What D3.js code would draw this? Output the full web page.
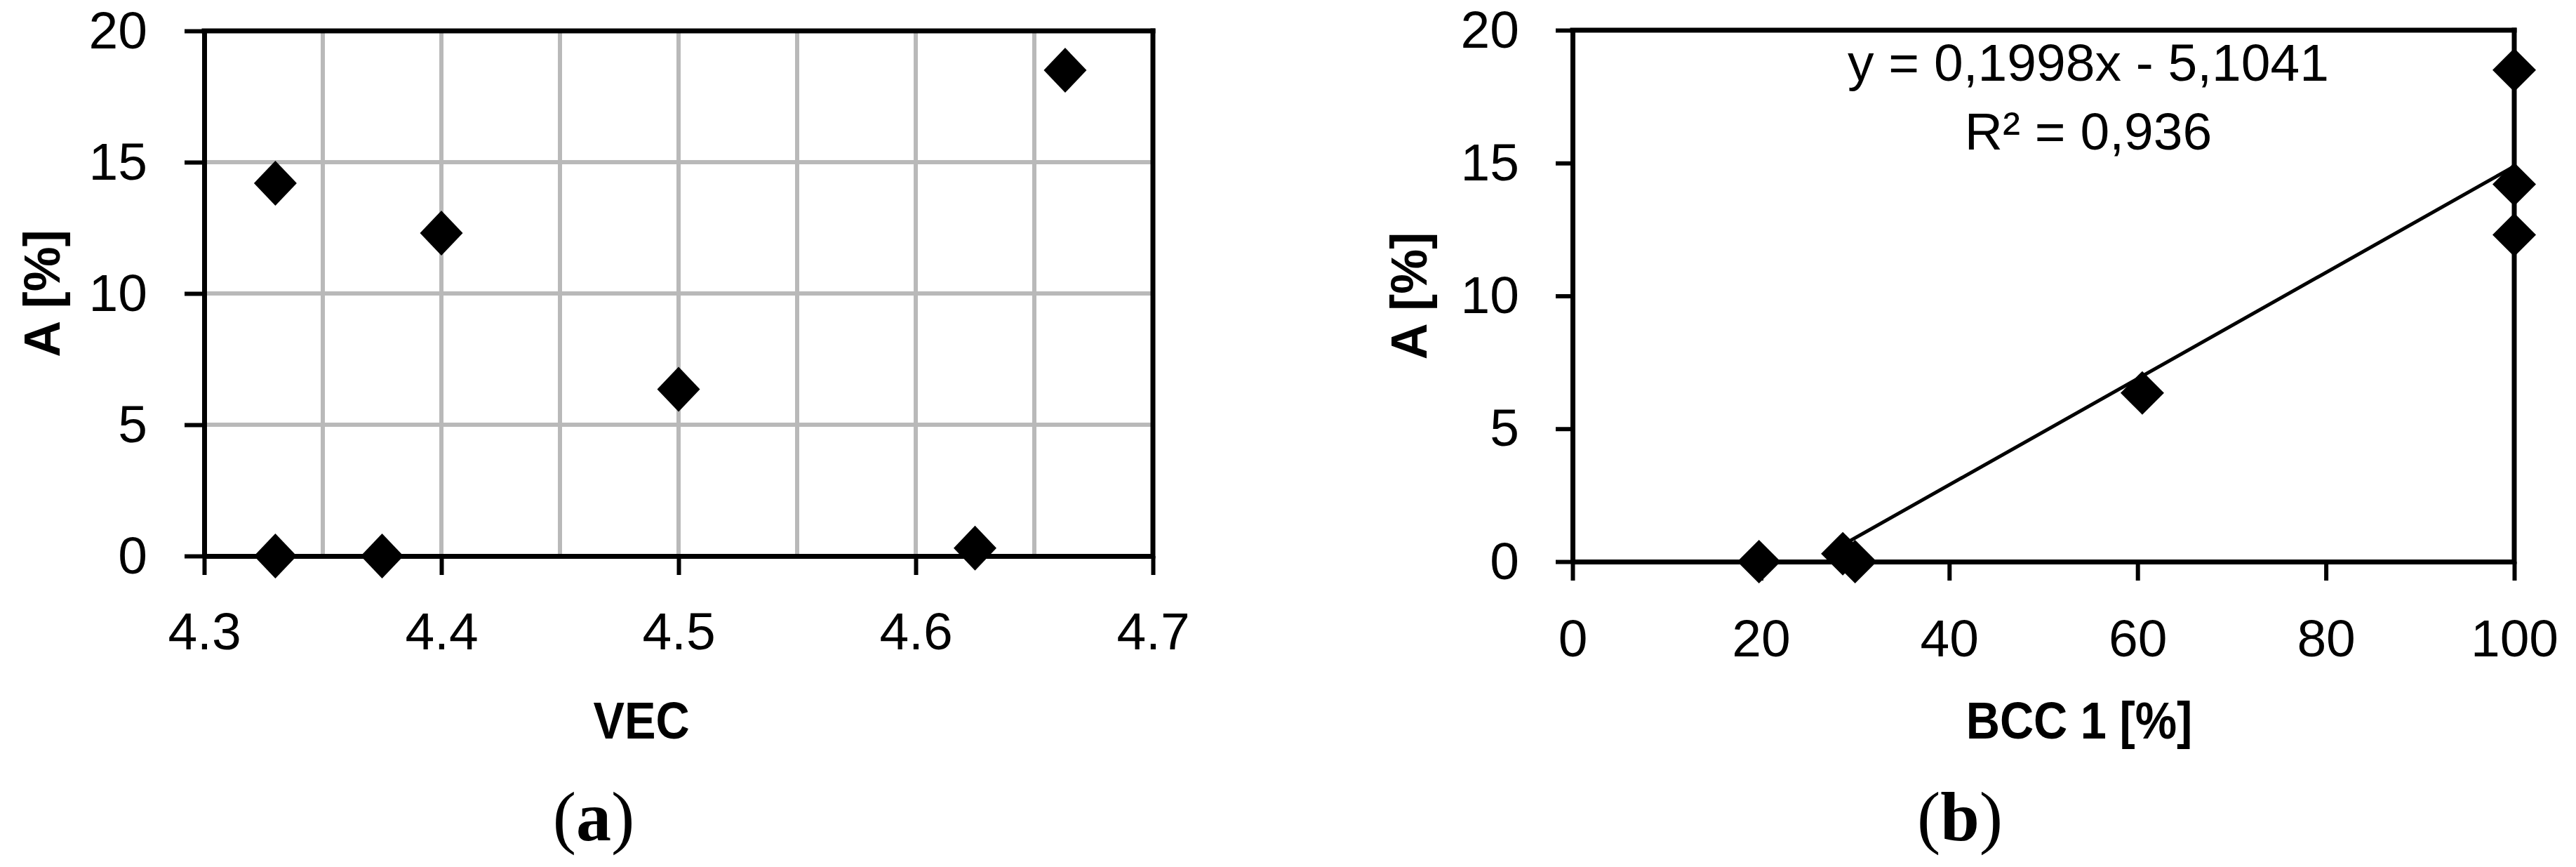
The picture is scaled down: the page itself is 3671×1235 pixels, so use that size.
<!DOCTYPE html>
<html>
<head>
<meta charset="utf-8">
<script src="https://cdn.jsdelivr.net/npm/d3@7"></script>
<style>
  body { margin: 0; background: #fff; }
  svg text { font-family: "Liberation Sans", Arial, sans-serif; fill: #000; }
</style>
</head>
<body>
<script>
// panel (a): A vs VEC
const vec = [4.33, 4.33, 4.375, 4.4, 4.5, 4.625, 4.663];
const vecA = [14.2, 0, 0, 12.3, 6.35, 0.3, 18.5];
const vecTicks = [4.3, 4.4, 4.5, 4.6, 4.7];
const vecGrid = [4.35, 4.4, 4.45, 4.5, 4.55, 4.6, 4.65];

// panel (b): A vs BCC 1
const bcc = [100, 100, 100, 60.5, 28.7, 19.8, 30];
const bccA = [18.5, 14.2, 12.3, 6.35, 0.3, 0, 0];
const bccTicks = [0, 20, 40, 60, 80, 100];

// shared y axis
const aTicks = [0, 5, 10, 15, 20];
const aGrid = [5, 10, 15];

// linear trend shown in (b)
const slope = 0.1998, intercept = -5.1041;
const trendRange = [28.7, 100];
const eqText = ["y = 0,1998x - 5,1041", "R² = 0,936"];

const W = 3671, H = 1235;
const svg = d3.select('body').append('svg')
  .attr('width', W)
  .attr('height', H);
svg.append('rect').attr('width', W).attr('height', H).attr('fill', '#fff');

function diamond(cx, cy, hw, hh) {
  return `M${cx},${cy - hh}L${cx + hw},${cy}L${cx},${cy + hh}L${cx - hw},${cy}Z`;
}

function styleAxis(g, sw) {
  g.select('.domain').attr('stroke', '#000').attr('stroke-width', sw);
  g.selectAll('.tick line').attr('stroke', '#000').attr('stroke-width', sw - 1);
  g.selectAll('.tick text').attr('font-size', 75).attr('font-family', null);
}

function drawPanel(o) {
  const { x, y, xTicks, fmt, sw } = o;
  const [x0, x1] = x.range();
  const [y0, y1] = y.range();
  const g = svg.append('g').attr('class', o.cls);

  // grid (only panel a)
  if (o.xGrid) {
    g.selectAll('line.vg').data(o.xGrid).join('line')
      .attr('class', 'vg')
      .attr('x1', d => x(d)).attr('x2', d => x(d))
      .attr('y1', y1).attr('y2', y0)
      .attr('stroke', '#b9b9b9').attr('stroke-width', 6);
    g.selectAll('line.hg').data(o.yGrid).join('line')
      .attr('class', 'hg')
      .attr('x1', x0).attr('x2', x1)
      .attr('y1', d => y(d)).attr('y2', d => y(d))
      .attr('stroke', '#b9b9b9').attr('stroke-width', 6);
  }

  // top + right border
  g.append('line').attr('x1', x0).attr('x2', x1).attr('y1', y1).attr('y2', y1)
    .attr('stroke', '#000').attr('stroke-width', sw).attr('stroke-linecap', 'square');
  g.append('line').attr('x1', x1).attr('x2', x1).attr('y1', y1).attr('y2', y0)
    .attr('stroke', '#000').attr('stroke-width', sw).attr('stroke-linecap', 'square');

  const xAxis = g.append('g')
    .attr('transform', `translate(0,${y0})`)
    .call(d3.axisBottom(x).tickValues(xTicks).tickFormat(fmt)
      .tickSize(27).tickSizeOuter(0).tickPadding(o.xPad));
  styleAxis(xAxis, sw);

  const yAxis = g.append('g')
    .attr('transform', `translate(${x0},0)`)
    .call(d3.axisLeft(y).tickValues(aTicks).tickFormat(d3.format('d'))
      .tickSize(o.yTick).tickSizeOuter(0).tickPadding(o.yPad - o.yTick));
  styleAxis(yAxis, sw);
  yAxis.selectAll('.tick text').attr('dy', '0.32em');

  // axis titles
  g.append('text')
    .attr('transform', `translate(${o.yLabelX},${(y0 + y1) / 2}) rotate(-90)`)
    .attr('text-anchor', 'middle').attr('dy', '0.35em')
    .attr('font-size', 72).attr('font-weight', 'bold')
    .text('A [%]');
  g.append('text')
    .attr('transform', `translate(${o.xLabelX},1052) scale(0.89,1)`)
    .attr('text-anchor', 'middle')
    .attr('font-size', 75).attr('font-weight', 'bold')
    .text(o.xLabel);

  // (a) / (b)
  const cap = svg.append('text')
    .attr('x', o.capX).attr('y', 1197)
    .attr('text-anchor', 'middle')
    .attr('font-size', 100)
    .style('font-family', '"Liberation Serif", "DejaVu Serif", serif');
  cap.append('tspan').text('(');
  cap.append('tspan').attr('font-weight', 'bold').text(o.cap);
  cap.append('tspan').text(')');

  return g;
}

// ---- panel (a)
const xA = d3.scaleLinear().domain([4.3, 4.7]).range([291, 1643]);
const yA = d3.scaleLinear().domain([0, 20]).range([792, 44]);
const gA = drawPanel({
  cls: 'panel-a', x: xA, y: yA, xTicks: vecTicks, fmt: d3.format('.1f'), sw: 7,
  xGrid: vecGrid, yGrid: aGrid, xPad: 53, yTick: 28, yPad: 81,
  yLabelX: 60, xLabel: 'VEC', xLabelX: 914,
  cap: 'a', capX: 846,
});
gA.selectAll('path.pt').data(d3.zip(vec, vecA)).join('path')
  .attr('class', 'pt')
  .attr('d', d => diamond(xA(d[0]), yA(d[1]), 30.5, 32))
  .attr('fill', '#000');

// ---- panel (b)
const xB = d3.scaleLinear().domain([0, 100]).range([2241, 3583]);
const yB = d3.scaleLinear().domain([0, 20]).range([800, 43]);
const gB = drawPanel({
  cls: 'panel-b', x: xB, y: yB, xTicks: bccTicks, fmt: d3.format('d'), sw: 7,
  xPad: 55, yTick: 24, yPad: 76,
  yLabelX: 2008, xLabel: 'BCC 1 [%]', xLabelX: 2963,
  cap: 'b', capX: 2793,
});

const trend = d3.line().x(d => xB(d)).y(d => yB(slope * d + intercept));
gB.append('path')
  .attr('d', trend(trendRange))
  .attr('fill', 'none')
  .attr('stroke', '#000')
  .attr('stroke-width', 5);

gB.selectAll('path.pt').data(d3.zip(bcc, bccA)).join('path')
  .attr('class', 'pt')
  .attr('d', d => diamond(xB(d[0]), yB(d[1]), 31, 31))
  .attr('fill', '#000');

gB.selectAll('text.eq').data(eqText).join('text')
  .attr('class', 'eq')
  .attr('x', 2976)
  .attr('y', (d, i) => 115 + i * 98)
  .attr('text-anchor', 'middle')
  .attr('font-size', 75)
  .text(d => d);
</script>
</body>
</html>
